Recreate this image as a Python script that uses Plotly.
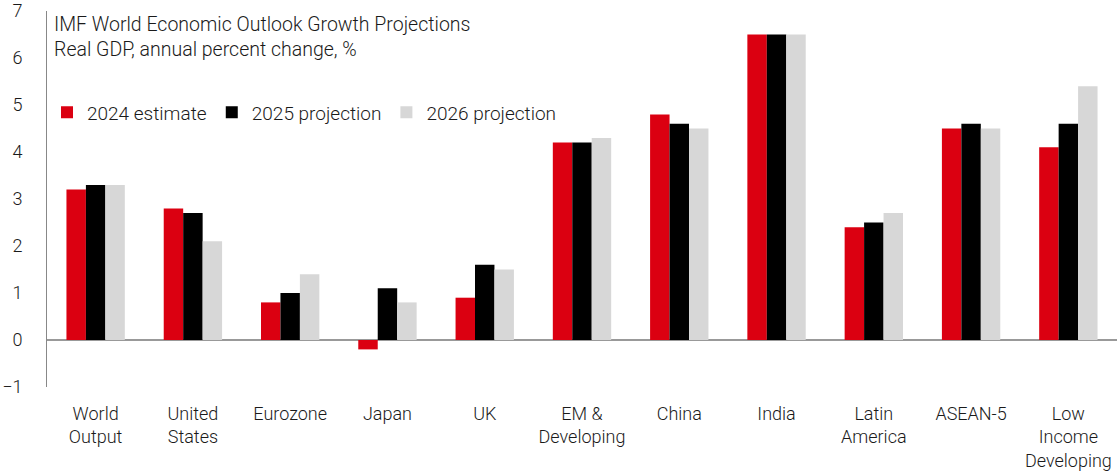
import plotly.graph_objects as go

categories = ["World<br>Output", "United<br>States", "Eurozone", "Japan", "UK",
              "EM &<br>Developing", "China", "India", "Latin<br>America", "ASEAN-5",
              "Low<br>Income<br>Developing"]
est_2024 = [3.2, 2.8, 0.8, -0.2, 0.9, 4.2, 4.8, 6.5, 2.4, 4.5, 4.1]
proj_2025 = [3.3, 2.7, 1.0, 1.1, 1.6, 4.2, 4.6, 6.5, 2.5, 4.6, 4.6]
proj_2026 = [3.3, 2.1, 1.4, 0.8, 1.5, 4.3, 4.5, 6.5, 2.7, 4.5, 5.4]
series_names = ["2024 estimate", "2025 projection", "2026 projection"]
colors = ["#DB0011", "#000000", "#D7D7D7"]

FONT = "Roboto"
TXT = "#1a1a1a"
fig = go.Figure()
for name, vals, c in zip(series_names, [est_2024, proj_2025, proj_2026], colors):
    fig.add_trace(go.Bar(x=categories, y=vals, name=name, marker_color=c,
                         marker_line_width=0))

fig.update_layout(
    width=1117, height=474,
    margin=dict(l=47, r=0, t=11, b=87),
    plot_bgcolor="white", paper_bgcolor="white",
    barmode="group", bargap=0.4, bargroupgap=0,
    font=dict(family=FONT, size=18, color=TXT, weight=300),
    showlegend=True,
    legend=dict(orientation="h", x=0.0, y=0.73, xanchor="left", yanchor="middle",
                font=dict(size=19, color=TXT, weight=300), itemwidth=30,
                traceorder="normal", bgcolor="rgba(0,0,0,0)"),
)
fig.update_yaxes(range=[-1, 7], dtick=1, showgrid=False, zeroline=True,
                 zerolinecolor="#999999", zerolinewidth=1.5,
                 showline=True, linecolor="#888888", linewidth=1,
                 ticks="", ticklabelstandoff=20,
                 tickfont=dict(size=18, color=TXT, weight=300))
fig.update_xaxes(showgrid=False, showline=False, ticks="", ticklabelstandoff=14,
                 tickfont=dict(size=18, color=TXT, weight=300), tickangle=0)

fig.add_annotation(xref="paper", yref="paper", x=0.005, y=1.0, xanchor="left", yanchor="top",
                   text="IMF World Economic Outlook Growth Projections<br>Real GDP, annual percent change, %",
                   showarrow=False, align="left",
                   font=dict(size=19.5, color=TXT, weight=300))

fig.write_html("out.html")
